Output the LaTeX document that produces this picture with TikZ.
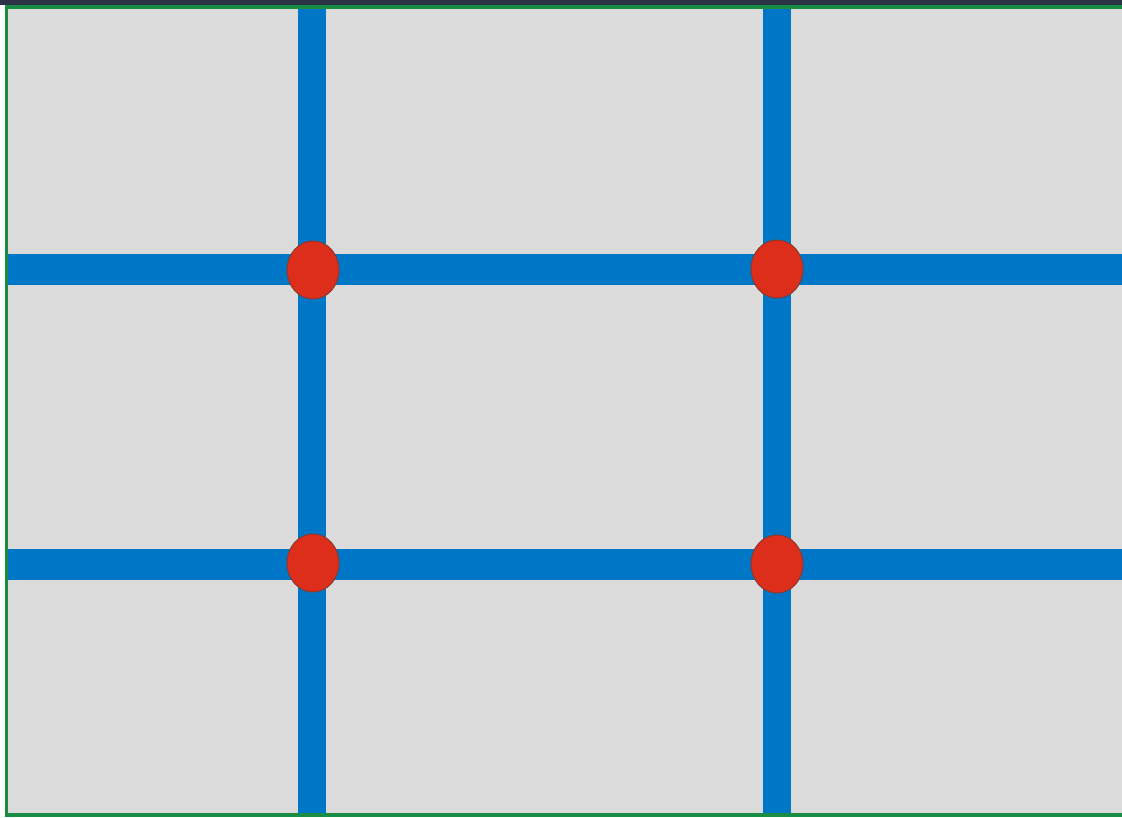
\documentclass[tikz,border=0pt]{standalone}
\usepackage{tikz}
\definecolor{bggray}{HTML}{DBDBDB}
\definecolor{gridblue}{HTML}{0077C6}
\definecolor{dotred}{HTML}{DC2E1A}
\definecolor{dotedge}{HTML}{8A3A30}
\definecolor{framegreen}{HTML}{1A8C44}
\definecolor{topbar}{HTML}{2D3347}
\tikzset{
  gridline/.style={draw=gridblue, line width=28pt},
  hgridline/.style={draw=gridblue, line width=31pt},
  dot/.style={ellipse, fill=dotred, draw=dotedge, line width=1pt, minimum width=52pt, minimum height=58pt, inner sep=0pt}
}
\usetikzlibrary{shapes.geometric}
\begin{document}
\begin{tikzpicture}[x=1pt,y=-1pt]
\useasboundingbox (0,0) rectangle (1122,817);
\fill[white] (0,0) rectangle (1122,817);
\fill[topbar] (0,0) rectangle (1122,5);
\fill[framegreen] (5,5) rectangle (1122,817);
\fill[bggray] (8,9) rectangle (1122,813);
% grid lines
\coordinate (vt1) at (312,9);
\coordinate (vb1) at (312,813);
\coordinate (vt2) at (777,9);
\coordinate (vb2) at (777,813);
\coordinate (hl1) at (8,269);
\coordinate (hr1) at (1122,269);
\coordinate (hl2) at (8,564);
\coordinate (hr2) at (1122,564);
\draw[gridline] (vt1) -- (vb1);
\draw[gridline] (vt2) -- (vb2);
\draw[hgridline] (hl1) -- (hr1);
\draw[hgridline] (hl2) -- (hr2);
% intersection dots
\node[dot] (d11) at (313,270) {};
\node[dot] (d12) at (777,269) {};
\node[dot] (d21) at (313,563) {};
\node[dot] (d22) at (777,564) {};
\end{tikzpicture}
\end{document}
